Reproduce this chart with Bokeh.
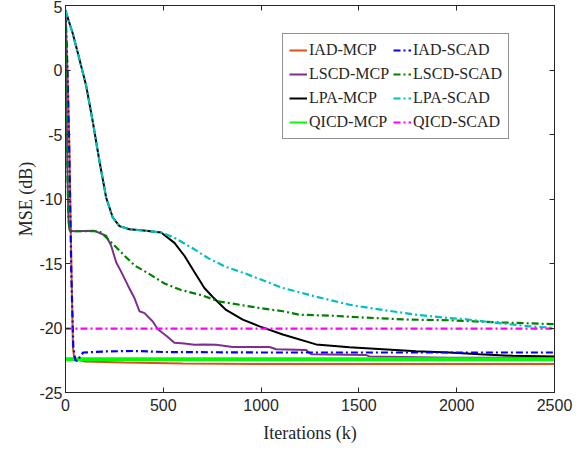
from bokeh.plotting import figure
from bokeh.models import Legend, LegendItem, LinearAxis, FixedTicker, Range1d
from bokeh.embed import file_html
from bokeh.resources import INLINE

# ---------------- data ----------------
x_ticks = [0, 500, 1000, 1500, 2000, 2500]
y_ticks = [-25, -20, -15, -10, -5, 0, 5]

iad_mcp_x = [0, 10, 20, 30, 38, 45, 100, 300, 600, 1000, 2500]
iad_mcp_y = [4.6, 0, -6, -15, -21.5, -22.4, -22.6, -22.67, -22.75, -22.8, -22.8]

lscd_mcp_x = [0, 5, 10, 15, 20, 40, 148, 208, 233, 259, 285, 319, 353, 378, 404, 446, 472, 515, 557,
              608, 659, 710, 770, 855, 1043, 1077, 1230, 1256, 1537, 1554, 1963, 2500]
lscd_mcp_y = [4.6, -2, -8, -11.5, -12.4, -12.5, -12.47, -12.85, -13.6, -14.9, -15.65, -16.7, -17.7,
              -18.7, -18.85, -19.5, -20.1, -20.6, -21.14, -21.2, -21.3, -21.27, -21.3, -21.47, -21.47,
              -21.65, -21.7, -22.03, -22.1, -22.2, -22.3, -22.3]

lpa_mcp_x = [0, 37, 72, 106, 140, 174, 208, 242, 276, 327, 400, 489, 557, 608, 659, 710, 753, 821,
             906, 992, 1111, 1281, 1452, 1622, 1793, 1963, 2116, 2287, 2500]
lpa_mcp_y = [4.6, 2.83, 0.8, -1.25, -4.05, -7.1, -9.9, -11.45, -12.1, -12.35, -12.45, -12.6, -13.4,
             -14.4, -15.66, -16.9, -17.6, -18.6, -19.35, -19.87, -20.5, -21.27, -21.5, -21.65, -21.8,
             -21.9, -22.03, -22.16, -22.2]

qicd_mcp_x = [0, 2500]
qicd_mcp_y = [-22.42, -22.42]

iad_scad_x = [0, 10, 20, 30, 40, 50, 60, 75, 90, 200, 350, 500, 1000, 2500]
iad_scad_y = [4.6, 0, -7, -16, -21.5, -22.5, -22.55, -22.2, -21.9, -21.82, -21.78, -21.86, -21.9, -21.9]

lscd_scad_x = [0, 5, 10, 15, 20, 40, 174, 199, 250, 302, 353, 438, 506, 591, 694, 787, 890, 992,
               1111, 1196, 1366, 1537, 1758, 1963, 2202, 2500]
lscd_scad_y = [4.6, -2, -8, -11.5, -12.4, -12.5, -12.5, -12.85, -13.6, -14.4, -15.15, -15.9, -16.55,
               -17.06, -17.45, -17.95, -18.2, -18.45, -18.7, -18.97, -19.05, -19.2, -19.35, -19.4,
               -19.56, -19.7]

lpa_scad_x = [0, 37, 72, 106, 140, 174, 208, 242, 276, 327, 400, 489, 557, 659, 710, 736, 821, 923,
              992, 1111, 1281, 1452, 1622, 1793, 1963, 2031, 2202, 2372, 2500]
lpa_scad_y = [4.6, 2.83, 0.8, -1.25, -4.05, -7.1, -9.9, -11.45, -12.1, -12.35, -12.45, -12.6, -13.0,
              -13.9, -14.4, -14.64, -15.27, -15.8, -16.2, -16.9, -17.57, -18.2, -18.6, -18.97, -19.23,
              -19.3, -19.6, -19.87, -20.0]

qicd_scad_x = [0, 2500]
qicd_scad_y = [-20.05, -20.05]

series = [
    ("IAD-MCP", iad_mcp_x, iad_mcp_y, "#D95319", "solid", 2),
    ("LSCD-MCP", lscd_mcp_x, lscd_mcp_y, "#7E2F8E", "solid", 2),
    ("LPA-MCP", lpa_mcp_x, lpa_mcp_y, "#000000", "solid", 2),
    ("QICD-MCP", qicd_mcp_x, qicd_mcp_y, "#00FF00", "solid", 2),
    ("IAD-SCAD", iad_scad_x, iad_scad_y, "#0000FF", "7 3 2 3", 2.2),
    ("LSCD-SCAD", lscd_scad_x, lscd_scad_y, "#008000", "7 3 2 3", 2.2),
    ("LPA-SCAD", lpa_scad_x, lpa_scad_y, "#00BFBF", "7 3 2 3", 2.2),
    ("QICD-SCAD", qicd_scad_x, qicd_scad_y, "#FF00FF", "7 3 2 3", 2.2),
]

AX = "#262626"

p = figure(width=576, height=445, output_backend="svg", toolbar_location=None,
           x_range=Range1d(0, 2500), y_range=Range1d(-25, 5),
           min_border_left=65, min_border_right=22, min_border_top=5, min_border_bottom=49)
p.outline_line_color = AX
p.outline_line_width = 1
p.grid.visible = False
p.background_fill_color = "white"
p.border_fill_color = "white"

items = []
for name, xs, ys, col, dash, lw in series:
    if name == "QICD-MCP":
        # the reference draws this flat line thicker than its legend sample
        p.line(xs, ys, line_color=col, line_width=3.8)
    r = p.line(xs, ys, line_color=col, line_dash=dash, line_width=lw)
    items.append(LegendItem(label=name, renderers=[r]))

for ax in [p.xaxis[0], p.yaxis[0]]:
    ax.axis_line_color = AX
    ax.major_tick_in = 5
    ax.major_tick_out = 0
    ax.minor_tick_line_color = None
    ax.major_tick_line_color = AX
    ax.major_label_text_font = "Liberation Sans"
    ax.major_label_text_font_size = "16px"
    ax.major_label_text_color = AX
    ax.axis_label_text_font = "Liberation Serif"
    ax.axis_label_text_font_size = "18px"
    ax.axis_label_text_font_style = "normal"
    ax.axis_label_text_color = AX

p.xaxis[0].ticker = FixedTicker(ticks=x_ticks)
p.yaxis[0].ticker = FixedTicker(ticks=y_ticks)
p.xaxis[0].major_label_overrides = {t: str(t) for t in x_ticks}
p.yaxis[0].major_label_overrides = {t: str(t) for t in y_ticks}
p.xaxis[0].axis_label = "Iterations (k)"
p.yaxis[0].axis_label = "MSE (dB)"
p.xaxis[0].major_label_standoff = 6
p.xaxis[0].axis_label_standoff = 9
p.yaxis[0].major_label_standoff = 3
p.yaxis[0].axis_label_standoff = 0

top_ax = LinearAxis(ticker=FixedTicker(ticks=x_ticks), major_label_text_alpha=0,
                    major_label_text_font_size="1px", axis_line_color=AX,
                    major_tick_line_color=AX, major_tick_in=5, major_tick_out=0,
                    minor_tick_line_color=None)
right_ax = LinearAxis(ticker=FixedTicker(ticks=y_ticks), major_label_text_alpha=0,
                      major_label_text_font_size="1px", axis_line_color=AX,
                      major_tick_line_color=AX, major_tick_in=5, major_tick_out=0,
                      minor_tick_line_color=None)
p.add_layout(top_ax, "above")
p.add_layout(right_ax, "right")

legend = Legend(items=items, ncols=2, location=(217, 253),
                label_text_font="Liberation Serif", label_text_font_size="16px",
                label_text_color=AX, glyph_width=18, glyph_height=20, label_height=20,
                label_standoff=2, spacing=4, padding=6, margin=0,
                border_line_color=AX, border_line_width=1,
                background_fill_color="white", background_fill_alpha=1)
p.add_layout(legend, "center")

open("out.html", "w").write(file_html(p, INLINE))
